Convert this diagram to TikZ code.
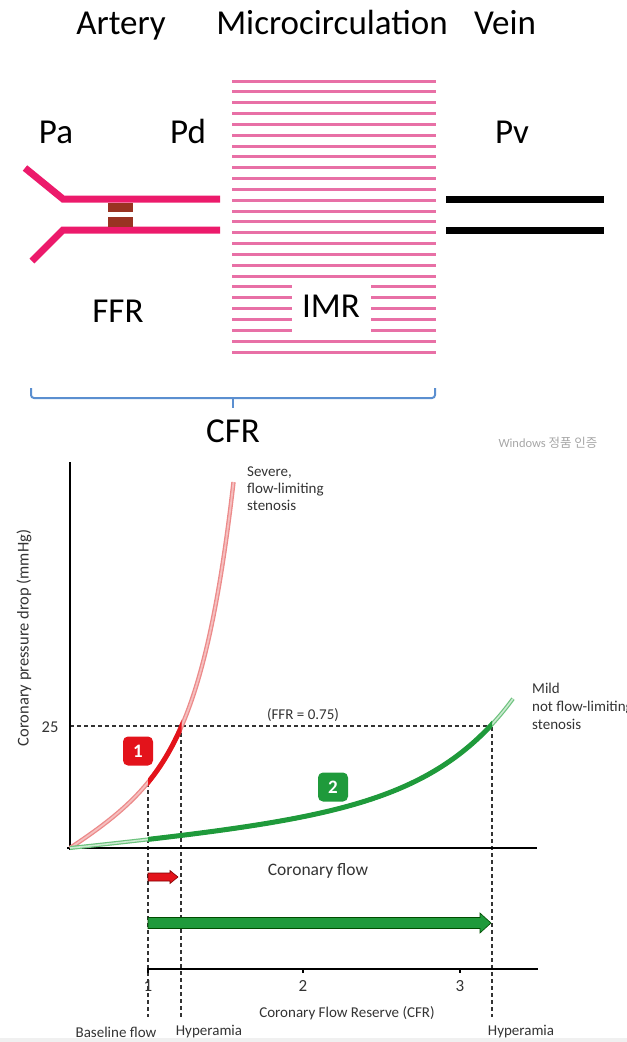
\documentclass[tikz,border=0pt]{standalone}
\usepackage{fontspec}
\setmainfont{Carlito}
\newfontfamily\krfont{Noto Sans CJK KR}
\definecolor{artpink}{HTML}{EC1A6B}
\definecolor{micpink}{HTML}{E870A6}
\definecolor{stencol}{HTML}{993322}
\definecolor{braceblue}{HTML}{5B8FD0}
\definecolor{dred}{HTML}{E3131B}
\definecolor{lred}{HTML}{EC8A8A}
\definecolor{dgreen}{HTML}{1F9A3B}
\definecolor{lgreen}{HTML}{6CC27D}
\definecolor{txtgray}{HTML}{333333}
\tikzset{
  bigtext/.style={font=\fontsize{35bp}{40bp}\selectfont, inner sep=0pt, anchor=base},
  smalltext/.style={font=\fontsize{15bp}{17bp}\selectfont, text=txtgray, inner sep=0pt},
  artline/.style={line width=7bp, artpink},
  veinline/.style={line width=7bp, black},
  micline/.style={line width=3bp, micpink},
  axisline/.style={line width=2.6bp, black},
  guide/.style={line width=1.2bp, txtgray, dash pattern=on 4bp off 3bp},
  lightred/.style={draw=lred, line width=1.3bp, double=lred!55, double distance=1.8bp},
  lightgreen/.style={draw=lgreen, line width=1.2bp, double=lgreen!35, double distance=1.6bp},
  badge/.style={rounded corners=5bp, minimum width=30bp, minimum height=29bp, text=white,
    font=\fontsize{19bp}{20bp}\selectfont\bfseries, inner sep=0pt},
}
\begin{document}
\begin{tikzpicture}[x=1bp,y=-1bp]
\useasboundingbox (0,0) rectangle (627,1042);
\fill[black!6] (0,1038) rectangle (627,1042);

% ---------- top: schematic ----------
\node[bigtext] (artery) at (121,34) {Artery};
\node[bigtext] (micro) at (332,34) {Microcirculation};
\node[bigtext] (vein) at (505,34) {Vein};
\node[bigtext] (pa) at (56,143) {Pa};
\node[bigtext] (pd) at (188,143) {Pd};
\node[bigtext] (pv) at (512,143) {Pv};

% artery
\draw[artline] (25,168) -- (63,199) -- (220,199);
\draw[artline] (32,261) -- (63,230) -- (220,230);
\fill[stencol] (108,203) rectangle (133,212);
\fill[stencol] (108,217) rectangle (133,226.5);

% microcirculation
\foreach \i in {0,...,25} \draw[micline] (232,{81+\i*10.84}) -- (436,{81+\i*10.84});
\fill[white] (292,281) rectangle (371,334);
\node[bigtext] (imr) at (331,317) {IMR};

% vein
\draw[veinline] (446,199) -- (604,199);
\draw[veinline] (446,230) -- (604,230);

\node[bigtext] (ffr) at (118,322) {FFR};

% brace
\draw[braceblue, line width=2bp, rounded corners=3bp] (31,388) -- (31,398) -- (435,398) -- (435,388);
\draw[braceblue, line width=2bp] (233,398) -- (233,408);
\node[bigtext] (cfr) at (233,442) {CFR};

\node[font=\fontsize{12.5bp}{14bp}\selectfont, text=black!35, inner sep=0pt] (wm) at (548,443) {Windows {\krfont 정품 인증}};

% ---------- bottom: chart ----------
\coordinate (o) at (70,848);
% guides
\draw[guide] (70,726) -- (492,726);
\draw[guide] (148,783) -- (148,1017);
\draw[guide] (181,726) -- (181,1017);
\draw[guide] (492,727) -- (492,1017);

% axes
\draw[axisline] (70,462) -- (70,850);
\draw[axisline] (67,848) -- (537,848);

% red curve (severe stenosis)
\draw[lightred] plot[domain=0:163.5, samples=90, smooth] ({70+\x}, {848 - 0.6*\x - 2.0*(exp(0.03*\x)-1)});
\begin{scope}
\clip (148,0) rectangle (181.5,1042);
\draw[dred, line width=5bp] plot[domain=70:120, samples=40, smooth] ({70+\x}, {848 - 0.6*\x - 2.0*(exp(0.03*\x)-1)});
\end{scope}

% green curve (mild stenosis)
\draw[lightgreen] plot[domain=0:443, samples=120, smooth] ({70+\x}, {848 - 0.1*\x - 0.52*(exp(0.012*\x)-1)});
\begin{scope}
\clip (148,0) rectangle (492,1042);
\draw[dgreen, line width=5bp] plot[domain=70:430, samples=100, smooth] ({70+\x}, {848 - 0.1*\x - 0.52*(exp(0.012*\x)-1)});
\end{scope}

% badges
\node[badge, fill=dred] (b1) at (138,751) {1};
\node[badge, fill=dgreen] (b2) at (333,787) {2};

% labels
\node[smalltext, anchor=base west] (sev1) at (247,476) {Severe,};
\node[smalltext, anchor=base west] (sev2) at (247,493) {flow-limiting};
\node[smalltext, anchor=base west] (sev3) at (247,510) {stenosis};
\node[smalltext, anchor=base west] (mild1) at (532,693) {Mild};
\node[smalltext, anchor=base west] (mild2) at (532,711) {not flow-limiting};
\node[smalltext, anchor=base west] (mild3) at (532,729) {stenosis};
\node[smalltext] (ffrval) at (303,715) {(FFR = 0.75)};
\node[smalltext, font=\fontsize{16.5bp}{18bp}\selectfont] (y25) at (50,727) {25};
\node[smalltext, rotate=90, font=\fontsize{16.5bp}{18bp}\selectfont] (ylab) at (24,638) {Coronary pressure drop (mmHg)};
\node[smalltext, font=\fontsize{17.5bp}{20bp}\selectfont] (xlab) at (318,871) {Coronary flow};

% block arrows
\draw[fill=dred, draw=red!50!black, line width=0.6bp] (148,873) -- (170,873) -- (170,870.5) -- (178,877) -- (170,883.5) -- (170,881) -- (148,881) -- cycle;
\draw[fill=dgreen, draw=green!30!black, line width=0.6bp] (148,917.5) -- (480,917.5) -- (480,913) -- (491,923) -- (480,933) -- (480,928.5) -- (148,928.5) -- cycle;

% CFR axis
\draw[axisline] (147,969) -- (538,969);
\draw[line width=2bp] (303,969) -- (303,973);
\draw[line width=2bp] (460,969) -- (460,973);
\draw[line width=2bp] (148,969) -- (148,973);
\node[smalltext, font=\fontsize{17bp}{20bp}\selectfont] (t1) at (148,986) {1};
\node[smalltext, font=\fontsize{17bp}{20bp}\selectfont] (t2) at (303,986) {2};
\node[smalltext, font=\fontsize{17bp}{20bp}\selectfont] (t3) at (460,986) {3};
\node[smalltext] (cfrlab) at (347,1013) {Coronary Flow Reserve (CFR)};
\node[smalltext] (base) at (116,1032) {Baseline flow};
\node[smalltext] (hyp1) at (209,1032) {Hyperamia};
\node[smalltext] (hyp2) at (521,1032) {Hyperamia};
\end{tikzpicture}
\end{document}
